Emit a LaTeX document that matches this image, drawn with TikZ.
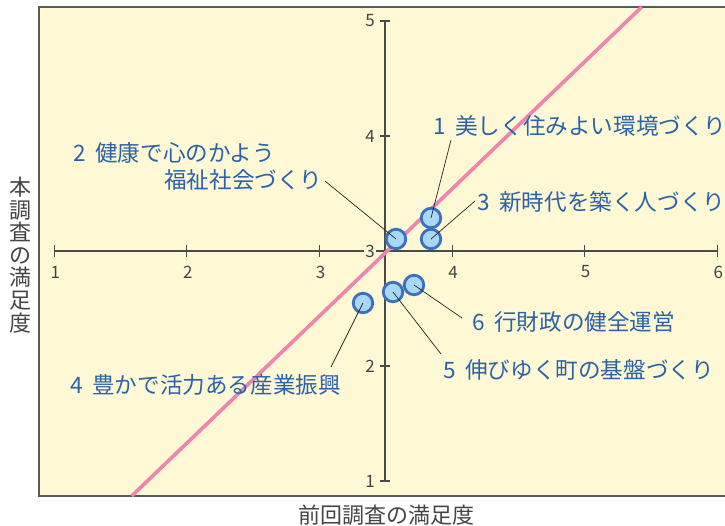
\documentclass[tikz,border=0pt]{standalone}
\usepackage{fontspec}
\newfontfamily\cjk{Noto Sans CJK JP}
\definecolor{bgcream}{HTML}{FEF9D4}
\definecolor{framegray}{HTML}{5A5A5A}
\definecolor{axisgray}{HTML}{4A4A4A}
\definecolor{pinkline}{HTML}{F184AE}
\definecolor{dotfill}{HTML}{A7D9F7}
\definecolor{dotedge}{HTML}{3D6FBF}
\definecolor{lblue}{HTML}{2B62AB}
\definecolor{tgray}{HTML}{444444}
\newcommand{\nsp}{\hspace{0.42em}}
\begin{document}
\begin{tikzpicture}[x=1pt,y=-1pt,
  axisline/.style={draw=axisgray, line width=1.1pt},
  tickmark/.style={draw=axisgray, line width=1.1pt},
  dot/.style={circle, draw=dotedge, fill=dotfill, line width=2.8pt, minimum size=19.5pt, inner sep=0pt},
  lbl/.style={text=lblue, font=\cjk\fontsize{22.6}{24}\selectfont, inner sep=0pt, anchor=west},
  leader/.style={draw=black!85, line width=0.7pt},
  xtick/.style={text=tgray, font=\cjk\fontsize{17}{18}\selectfont, inner sep=0pt},
  ytick/.style={text=tgray, font=\cjk\fontsize{17}{18}\selectfont, inner sep=1pt, fill=bgcream, anchor=east},
  axtitle/.style={text=tgray, font=\cjk\fontsize{22}{23}\selectfont, inner sep=0pt}]
\useasboundingbox (0,0) rectangle (725,525);
% frame
\fill[bgcream] (39,7) rectangle (735,496);
\draw[framegray, line width=1.3pt] (735,7) -- (39,7) -- (39,496) -- (735,496);
% axes
\draw[axisline] (54.3,251) -- (717,251);
\draw[axisline] (385,21) -- (385,481);
\foreach \i/\xx in {1/54.3,2/186.9,3/319.5,4/452.1,5/584.7,6/717.3}{
  \draw[tickmark] (\xx,245) -- (\xx,257);
  \node[xtick] (xt\i) at (\xx+1,272) {\i};
}
\foreach \i/\yy in {5/21,4/136,3/251,2/366,1/481}{
  \draw[tickmark] (380,\yy) -- (390,\yy);
}
\foreach \i/\yy in {5/21,4/136,3/251,2/366,1/481}{
  \node[ytick] (yt\i) at (376,\yy) {\i};
}
% diagonal
\draw[pinkline, line width=3.6pt] (131.7,496) -- (641.7,7);
% dots
\node[dot] (c1) at (431,218) {};
\node[dot] (c2) at (396,239) {};
\node[dot] (c3) at (431,239) {};
\node[dot] (c4) at (363,303) {};
\node[dot] (c5) at (393,292) {};
\node[dot] (c6) at (414,285) {};
% labels
\node[lbl] (l1) at (433,126) {1\nsp 美しく住みよい環境づくり};
\node[lbl] (l2a) at (73,153) {2\nsp 健康で心のかよう};
\node[lbl] (l2b) at (164,180) {福祉社会づくり};
\node[lbl] (l3) at (477,202) {3\nsp 新時代を築く人づくり};
\node[lbl] (l4) at (70,385) {4\nsp 豊かで活力ある産業振興};
\node[lbl] (l5) at (443,370) {5\nsp 伸びゆく町の基盤づくり};
\node[lbl] (l6) at (472,322) {6\nsp 行財政の健全運営};
% leader ends
\coordinate (e1) at (451,140);
\coordinate (e2) at (325,181);
\coordinate (e3) at (475,201);
\coordinate (e4) at (331,367);
\coordinate (e5) at (441,354);
\coordinate (e6) at (462,318);
\draw[leader] (e1) -- (c1.center);
\draw[leader] (e2) -- (c2.center);
\draw[leader] (e3) -- (c3.center);
\draw[leader] (e4) -- (c4.center);
\draw[leader] (e5) -- (c5.center);
\draw[leader] (e6) -- (c6.center);
% axis titles
\node[axtitle] (xtitle) at (386,515) {前回調査の満足度};
\node[axtitle, align=center, font=\cjk\fontsize{22}{22.6}\selectfont] (ytitle) at (20.5,255) {本\\調\\査\\の\\満\\足\\度};
\end{tikzpicture}
\end{document}
